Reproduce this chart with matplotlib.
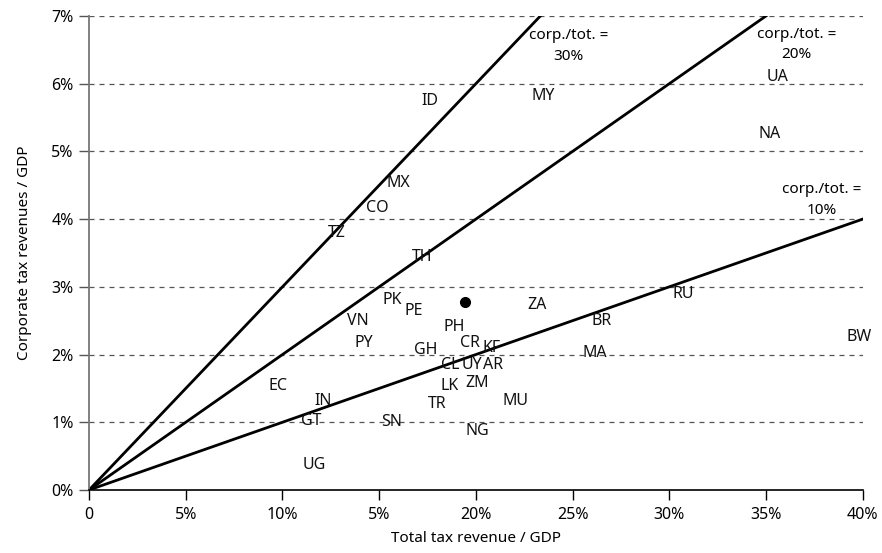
import matplotlib.pyplot as plt

# country labels: total tax revenue / GDP (%), corporate tax / GDP (%)
countries = ['ID', 'MY', 'UA', 'NA', 'MX', 'CO', 'TZ', 'TH', 'PK', 'PE', 'VN', 'PY',
             'GH', 'PH', 'CR', 'KF', 'CL', 'UY', 'AR', 'ZM', 'LK', 'TR', 'MU', 'NG',
             'SN', 'GT', 'IN', 'EC', 'UG', 'ZA', 'RU', 'BR', 'MA', 'BW']
total = [17.6, 23.5, 35.6, 35.2, 16.0, 14.9, 12.8, 17.2, 15.7, 16.8, 13.9, 14.2,
         17.4, 18.9, 19.7, 20.8, 18.7, 19.8, 20.9, 20.05, 18.66, 17.98, 22.07, 20.1,
         15.66, 11.47, 12.1, 9.77, 11.63, 23.15, 30.7, 26.5, 26.15, 39.8]
corp = [5.75, 5.82, 6.1, 5.26, 4.53, 4.17, 3.80, 3.44, 2.81, 2.64, 2.50, 2.17,
        2.07, 2.41, 2.17, 2.10, 1.85, 1.85, 1.85, 1.58, 1.54, 1.27, 1.31, 0.87,
        1.0, 1.02, 1.31, 1.54, 0.37, 2.73, 2.89, 2.50, 2.02, 2.26]

# highlighted point (average)
avg_total, avg_corp = 19.43, 2.78

ratios = [0.3, 0.2, 0.1]
ratio_labels = ['corp./tot. =\n30%', 'corp./tot. =\n20%', 'corp./tot. =\n10%']
ratio_label_pos = [(24.8, 6.56), (36.6, 6.58), (37.9, 4.28)]

xticks = [0, 5, 10, 15, 20, 25, 30, 35, 40]
xtick_labels = ['0', '5%', '10%', '5%', '20%', '25%', '30%', '35%', '40%']
yticks = [0, 1, 2, 3, 4, 5, 6, 7]
ytick_labels = ['%d%%' % v for v in yticks]

plt.rcParams['font.family'] = ['Noto Sans', 'DejaVu Sans']

fig = plt.figure(figsize=(8.82, 5.53), dpi=100)
ax = fig.add_axes([0.101, 0.114, 0.877, 0.857])

for v in yticks[1:]:
    ax.axhline(v, color='#555555', linestyle=(0, (4, 4)), linewidth=0.9, zorder=1)

for r in ratios:
    ax.plot([0, 40], [0, 40 * r], color='black', linewidth=2, zorder=2)

for (lx, ly), txt in zip(ratio_label_pos, ratio_labels):
    ax.text(lx, ly, txt, ha='center', va='center', fontsize=11, linespacing=1.5, zorder=3)

for name, x, y in zip(countries, total, corp):
    ax.text(x, y, name, ha='center', va='center', fontsize=11.5, color='#111111', zorder=3)

ax.plot(avg_total, avg_corp, 'o', color='black', markersize=7, zorder=4)

ax.set_xlim(0, 40)
ax.set_ylim(0, 7)
ax.set_xticks(xticks)
ax.set_xticklabels(xtick_labels, fontsize=11.5)
ax.set_yticks(yticks)
ax.set_yticklabels(ytick_labels, fontsize=11.5)
ax.set_xlabel('Total tax revenue / GDP', fontsize=11, labelpad=6)
ax.set_ylabel('Corporate tax revenues / GDP', fontsize=11, labelpad=14)

ax.spines['top'].set_visible(False)
ax.spines['right'].set_visible(False)
ax.spines['left'].set_color('#777777')
ax.spines['left'].set_linewidth(1.3)
ax.spines['bottom'].set_linewidth(1.2)
ax.tick_params(axis='x', length=7, width=1, pad=5)
ax.tick_params(axis='y', length=7, width=1, color='#555555', pad=4)

fig.savefig('out.png', dpi=100)
